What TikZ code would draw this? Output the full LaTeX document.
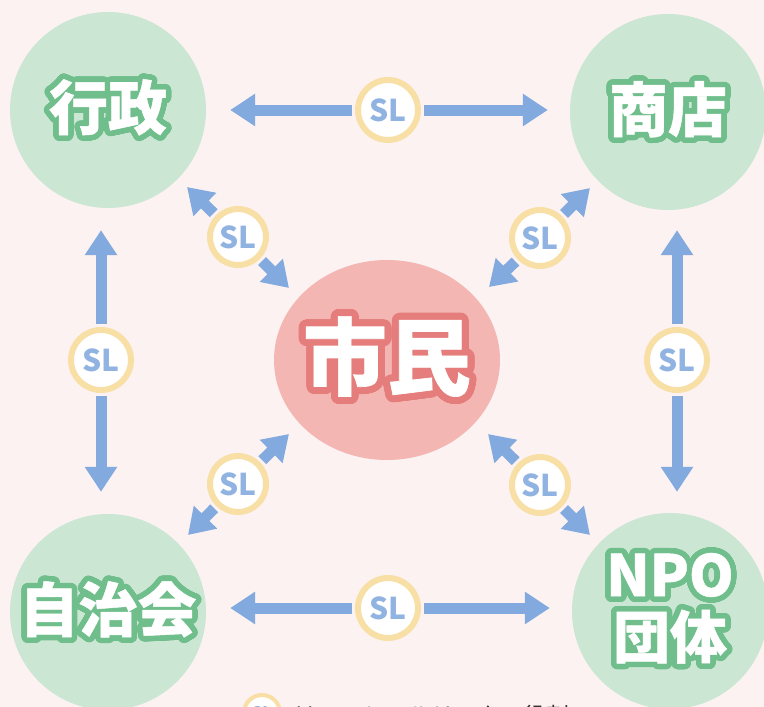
\documentclass[tikz,border=0pt]{standalone}
\usepackage{fontspec}
\newfontfamily\cjk{Noto Sans CJK JP}
\newfontfamily\cjkheavy{Noto Sans CJK JP}[BoldFeatures={FakeBold=0.8}]
\usepackage{contour}
\contournumber{40}
\usetikzlibrary{arrows.meta,shapes.geometric,calc}
\definecolor{bgc}{HTML}{FCF2F1}
\definecolor{gfill}{HTML}{CCE6D4}
\definecolor{gline}{HTML}{6FBE8B}
\definecolor{pfill}{HTML}{F4B6B2}
\definecolor{pline}{HTML}{E47D7B}
\definecolor{arrc}{HTML}{82AADE}
\definecolor{ringc}{HTML}{F8DFA6}
\definecolor{slc}{HTML}{90B3E2}
\definecolor{notec}{HTML}{333333}
\tikzset{
  bigc/.style={circle,fill=gfill,minimum size=196pt,inner sep=-20pt,align=center,
    font=\cjkheavy\bfseries\fontsize{59}{66}\selectfont,text=white},
  shim/.style={ellipse,fill=pfill,minimum width=226pt,minimum height=200pt,inner sep=-30pt,
    font=\cjkheavy\bfseries\fontsize{84}{90}\selectfont,text=white},
  slnode/.style={circle,fill=white,draw=ringc,line width=6pt,minimum size=60pt,inner sep=0pt,
    font=\cjk\bfseries\fontsize{30}{30}\selectfont,text=slc},
  half/.style={draw=arrc,line width=11pt,shorten <=3pt,
    -{Triangle[length=25pt,width=31pt]}},
}
\begin{document}
\begin{tikzpicture}[x=1pt,y=-1pt]
\useasboundingbox (0,0) rectangle (764,707);
\fill[bgc] (0,0) rectangle (764,707);

% main nodes
\node[bigc] (gyosei) at (108,110) {\contourlength{5.5pt}\contour{gline}{行政}};
\node[bigc] (shoten) at (668,112) {\contourlength{5.5pt}\contour{gline}{商店}};
\node[bigc] (jichi) at (108,612) {\contourlength{5.5pt}\contour{gline}{自治会}};
\node[bigc,font=\cjkheavy\bfseries\fontsize{57}{64}\selectfont] (npo) at (670,611) {\contourlength{5.5pt}\contour{gline}{NPO}\\[-2pt]\contourlength{5.5pt}\contour{gline}{団体}};
\node[shim] (shimin) at (387,360) {\contourlength{7pt}\contour{pline}{市民}};

% SL nodes
\node[slnode] (sl1) at (388,110) {SL};
\node[slnode] (sl2) at (388,608) {SL};
\node[slnode] (sl3) at (101,360) {SL};
\node[slnode] (sl4) at (677,360) {SL};
\node[slnode,minimum size=56pt] (sl5) at (238,237) {SL};
\node[slnode,minimum size=56pt] (sl6) at (540,238) {SL};
\node[slnode,minimum size=56pt] (sl7) at (238,484) {SL};
\node[slnode,minimum size=56pt] (sl8) at (540,485) {SL};

% tip coordinates of diagonal arrows
\coordinate (d5a) at (187,187);
\coordinate (d5b) at (289,288);
\coordinate (d6a) at (590,188);
\coordinate (d6b) at (489,287);
\coordinate (d7a) at (289,434);
\coordinate (d7b) at (188,535);
\coordinate (d8a) at (488,434);
\coordinate (d8b) at (590,535);

% straight arrows
\draw[half,shorten >=24pt] (sl1) -- (sl1 -| gyosei.east);
\draw[half,shorten >=22pt] (sl1) -- (sl1 -| shoten.west);
\draw[half,shorten >=24pt] (sl2) -- (sl2 -| jichi.east);
\draw[half,shorten >=22pt] (sl2) -- (sl2 -| npo.west);
\draw[half,shorten >=22pt] (sl3) -- (sl3 |- gyosei.south);
\draw[half,shorten >=22pt] (sl3) -- (sl3 |- jichi.north);
\draw[half,shorten >=20pt] (sl4) -- (sl4 |- shoten.south);
\draw[half,shorten >=21pt] (sl4) -- (sl4 |- npo.north);

% diagonal arrows
\draw[half] (sl5) -- (d5a);
\draw[half] (sl5) -- (d5b);
\draw[half] (sl6) -- (d6a);
\draw[half] (sl6) -- (d6b);
\draw[half] (sl7) -- (d7a);
\draw[half] (sl7) -- (d7b);
\draw[half] (sl8) -- (d8a);
\draw[half] (sl8) -- (d8b);

% note at bottom (clipped)
\node[font=\cjk\fontsize{23}{24}\selectfont,text=notec] (mark) at (206,716) {※};
\node[slnode,minimum size=36pt,line width=4pt,font=\cjk\bfseries\fontsize{16}{16}\selectfont] (icon) at (262,713) {SL};
\node[anchor=west,inner sep=0pt,font=\cjk\fontsize{23}{24}\selectfont,text=notec] (note) at (294,716) {はソーシャルリンクの役割};
\end{tikzpicture}
\end{document}
